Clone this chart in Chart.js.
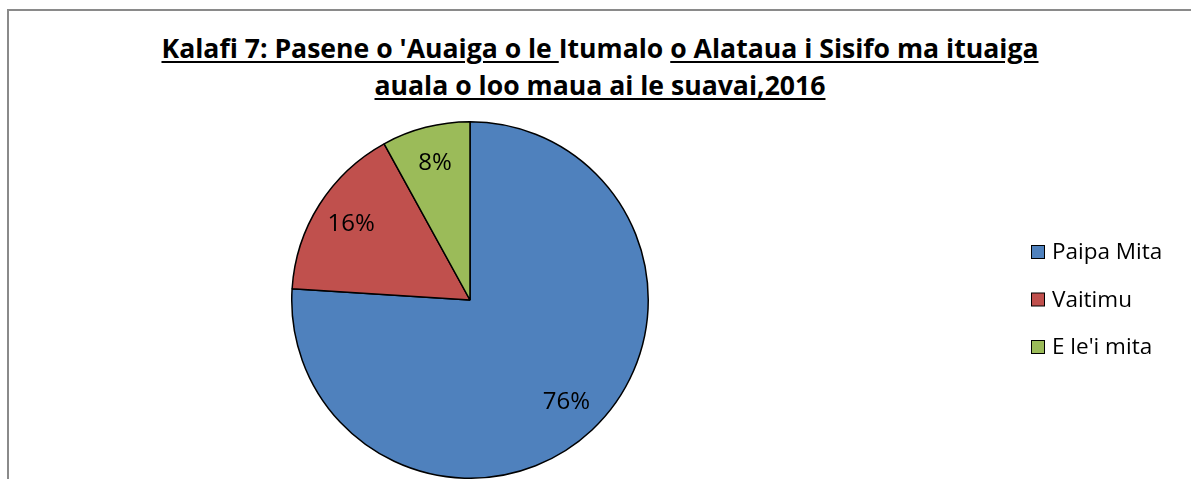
<!DOCTYPE html>
<html>
<head>
<meta charset="utf-8">
<script src="https://cdn.jsdelivr.net/npm/chart.js@4.4.0/dist/chart.umd.min.js"></script>
<style>
  html, body { margin:0; padding:0; background:#fff; }
  #wrap { position:relative; width:1191px; height:479px; overflow:hidden; }
  #frame { position:absolute; left:7px; top:9px; width:1300px; height:600px; border:2px solid #8a8a8a; box-sizing:border-box; }
  #title { position:absolute; left:0; top:30px; width:1200px; text-align:center; font-family:"Open Sans", sans-serif; font-weight:bold; font-size:26.6px; line-height:37px; color:#000; }
  #title u { text-underline-offset:3px; text-decoration-thickness:2px; }
  canvas { position:absolute; left:0; top:0; }
</style>
</head>
<body>
<div id="wrap">
  <div id="frame"></div>
  <div id="title"><u>Kalafi 7: Pasene o 'Auaiga o le </u>Itumalo <u>o Alataua i Sisifo ma ituaiga</u><br><u>auala o loo maua ai le suavai,2016</u></div>
  <canvas id="pie" width="1191" height="479"></canvas>
</div>
<script>
const labels = ["Paipa Mita", "Vaitimu", "E le'i mita"];
const values = [76, 16, 8];
const colors = ["#4F81BD", "#C0504D", "#9BBB59"];

// percent labels inside the slices
const sliceLabels = {
  id: "sliceLabels",
  afterDatasetsDraw(chart) {
    const ctx = chart.ctx;
    const meta = chart.getDatasetMeta(0);
    const total = values.reduce((a,b)=>a+b,0);
    ctx.save();
    ctx.font = "24px 'Open Sans', sans-serif";
    ctx.fillStyle = "#000";
    ctx.textAlign = "center";
    ctx.textBaseline = "middle";
    meta.data.forEach((arc,i)=>{
      const mid = (arc.startAngle+arc.endAngle)/2;
      const r = arc.outerRadius*0.79;
      const x = arc.x + Math.cos(mid)*r;
      const y = arc.y + Math.sin(mid)*r;
      ctx.fillText(Math.round(values[i]/total*100)+"%", x, y);
    });
    ctx.restore();
  }
};

// legend on the right, drawn on the canvas
const sideLegend = {
  id: "sideLegend",
  afterDraw(chart) {
    const ctx = chart.ctx;
    const ds = chart.data.datasets[0];
    ctx.save();
    ctx.font = "22.5px 'Open Sans', sans-serif";
    ctx.textBaseline = "middle";
    chart.data.labels.forEach((l,i)=>{
      const y = 252 + i*47.5;
      ctx.fillStyle = ds.backgroundColor[i];
      ctx.fillRect(1031.5, y-6.5, 13, 13);
      ctx.strokeStyle = "#000";
      ctx.lineWidth = 1;
      ctx.strokeRect(1031.5, y-6.5, 13, 13);
      ctx.fillStyle = "#000";
      ctx.fillText(l, 1052, y+1);
    });
    ctx.restore();
  }
};

new Chart(document.getElementById("pie"), {
  type: "pie",
  data: {
    labels: labels,
    datasets: [{
      data: values,
      backgroundColor: colors,
      borderColor: "#000",
      borderWidth: 1.5
    }]
  },
  options: {
    responsive: false,
    animation: false,
    layout: { padding: { top: 121, bottom: 0, left: 291, right: 542 } },
    plugins: { legend: { display: false }, tooltip: { enabled: false } }
  },
  plugins: [sliceLabels, sideLegend]
});
</script>
</body>
</html>
